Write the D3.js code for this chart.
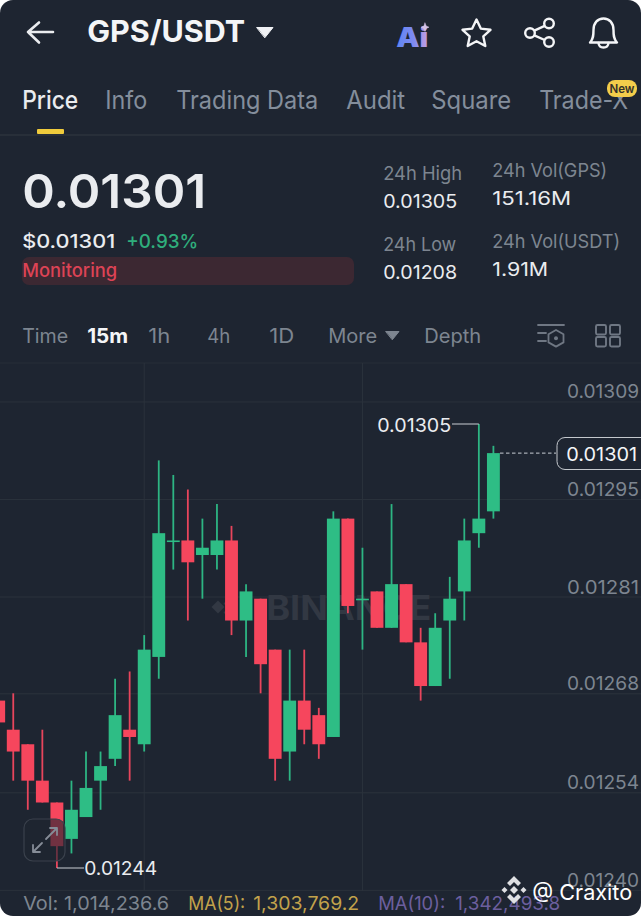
<!DOCTYPE html>
<html>
<head>
<meta charset="utf-8">
<script src="https://cdn.jsdelivr.net/npm/d3@7/dist/d3.min.js"></script>
<style>
html,body{margin:0;padding:0;background:#fff;overflow:hidden}
svg{display:block}
text{font-family:Inter,Lato,"Noto Sans",sans-serif}
</style>
</head>
<body>
<svg id="c" width="641" height="916"></svg>
<script>
// ---------- data ----------
const opens  = [0.01267,0.01263,0.01261,0.01256,0.01253,0.01248,0.01251,0.01256,0.01259,0.01263,0.01261,0.01273,0.01289,0.01289,0.01287,0.01287,0.01289,0.01278,0.01281,0.01274,0.01260,0.01267,0.01265,0.01262,0.01292,0.01281,0.01282,0.01277,0.01283,0.01275,0.01269,0.01278,0.01282,0.01290,0.01293];
const highs  = [0.01273,0.01268,0.01261,0.01263,0.01253,0.01256,0.01260,0.01260,0.01270,0.01271,0.01276,0.01300,0.01298,0.01296,0.01292,0.01294,0.01291,0.01283,0.01281,0.01274,0.01274,0.01274,0.01266,0.01293,0.01292,0.01288,0.01282,0.01294,0.01283,0.01277,0.01279,0.01284,0.01292,0.01305,0.01302];
const lows   = [0.01263,0.01256,0.01252,0.01253,0.01244,0.01246,0.01251,0.01252,0.01258,0.01256,0.01260,0.01270,0.01285,0.01278,0.01281,0.01285,0.01276,0.01273,0.01268,0.01256,0.01256,0.01261,0.01259,0.01262,0.01279,0.01274,0.01277,0.01277,0.01275,0.01267,0.01269,0.01270,0.01278,0.01288,0.01292];
const closes = [0.01264,0.01260,0.01256,0.01253,0.01247,0.01252,0.01255,0.01258,0.01265,0.01262,0.01274,0.01290,0.01289,0.01286,0.01288,0.01289,0.01278,0.01282,0.01272,0.01259,0.01267,0.01263,0.01261,0.01292,0.01280,0.01281,0.01277,0.01283,0.01275,0.01269,0.01277,0.01281,0.01289,0.01292,0.01301];
const upFlags = [0,0,0,0,0,1,1,1,1,0,1,1,1,0,1,1,0,1,0,0,1,0,0,1,0,1,0,1,0,0,1,1,1,1,1];
const priceTicks  = [0.013081,0.012947,0.012813,0.01268,0.012544,0.01241];
const priceLabels = ["0.01309","0.01295","0.01281","0.01268","0.01254","0.01240"];
const timeGridCandles = [10,25];
const lastPrice = 0.01301, dayHigh = 0.01305, dayLow = 0.01244;
const tabs = ["Price","Info","Trading Data","Audit","Square","Trade-X"];
const intervals = ["Time","15m","1h","4h","1D","More","Depth"];

// ---------- palette ----------
const BG="#1e2531", GRID="#2b323c", UP="#2ebd85", DOWN="#f6465d", GRAY="#848e9c", AXIS="#7d8590", WHITE="#eaecef";

const svg = d3.select("#c");
svg.append("rect").attr("width",641).attr("height",916).attr("rx",13).attr("fill",BG);

function T(s,x,base,size,fill,width,weight,anchor){
  const t = svg.append("text").attr("x",anchor?x:x-0.8).attr("y",base).attr("font-size",size)
    .attr("fill",fill).attr("font-weight",weight||400).text(s);
  if(anchor) t.attr("text-anchor",anchor);
  if(width) t.attr("textLength",width).attr("lengthAdjust","spacingAndGlyphs");
  return t;
}
const L=(x1,y1,x2,y2,c,w)=>svg.append("line").attr("x1",x1).attr("y1",y1).attr("x2",x2).attr("y2",y2).attr("stroke",c).attr("stroke-width",w||1);
const P=(d,c,w,f)=>svg.append("path").attr("d",d).attr("stroke",c||"none").attr("stroke-width",w||0).attr("fill",f||"none").attr("stroke-linecap","round").attr("stroke-linejoin","round");

// ---------- header ----------
P("M53 32H28M39 22.5L28 32L39 42.5","#eaecef",2.6);
T("GPS/USDT",88,42,30,"#f4f5f7",158,700);
P("M257 27.5H273L265 37.5Z","#f0f1f4",1,"#f0f1f4");

const defs = svg.append("defs");
const grad = defs.append("linearGradient").attr("id","ai").attr("x1","0").attr("x2","1");
grad.append("stop").attr("offset","0").attr("stop-color","#5f86f2");
grad.append("stop").attr("offset","0.55").attr("stop-color","#7f8af0");
grad.append("stop").attr("offset","1").attr("stop-color","#c59fe0");
T("Ai",397,47,27,"url(#ai)",32,900);
P("M425 23L426.2 26L429 27.2L426.2 28.4L425 31.5L423.8 28.4L421 27.2L423.8 26Z","#d5c3e6",0.5,"#d5c3e6");

P("M476.5 19.5L480.8 28.6L490.5 29.8L483.3 36.4L485.3 46L476.5 41.2L467.7 46L469.7 36.4L462.5 29.8L472.2 28.6Z","#f4f5f7",2.4);
svg.selectAll(null).data([[530,33],[549,23.5],[549,42]]).join("circle")
  .attr("cx",d=>d[0]).attr("cy",d=>d[1]).attr("r",4.8).attr("fill","none").attr("stroke","#f4f5f7").attr("stroke-width",2.4);
L(534.3,30.6,544.7,25.8,"#f4f5f7",2.4); L(534.3,35.4,544.7,40,"#f4f5f7",2.4);
P("M590 42.5C593.5 39 593.5 35 593.5 30C593.5 23 597.5 18.5 603.5 18.5C609.5 18.5 613.5 23 613.5 30C613.5 35 613.5 39 617 42.5Z","#f4f5f7",2.4);
P("M598.5 43C599 49 608 49 608.5 43","#f4f5f7",2.4);

// ---------- tabs ----------
const tabX = [[23,56],[106,42],[177,142],[347,59],[432,80],[540,89]];
tabs.forEach((s,i)=>T(s,tabX[i][0],109,25,i==0?WHITE:GRAY,tabX[i][1],i==0?500:400));
L(0,135,641,135,"#2c333d",1.5);
svg.append("rect").attr("x",37).attr("y",129).attr("width",27).attr("height",5).attr("rx",1).attr("fill","#f0cb3c");
svg.append("rect").attr("x",607).attr("y",80).attr("width",30).attr("height",17).attr("rx",8).attr("fill","#f3cd4b");
T("New",622,92.5,11.5,"#33302a",null,600,"middle");

// ---------- price block ----------
T("0.01301",23,208,47,WHITE,184,600);
T("$0.01301",23,248,19,WHITE,93,500);
T("+0.93%",127,248,19,"#2fae7c",72,500);
svg.append("rect").attr("x",22).attr("y",257).attr("width",332).attr("height",28).attr("rx",7).attr("fill","#3c2832");
T("Monitoring",23,277,18.5,"#dd4355",95,500);

T("24h High",384,180,19,AXIS,79);
T("0.01305",384,208,19,WHITE,74);
T("24h Low",384,251,19,AXIS,73);
T("0.01208",384,279,19,WHITE,74);
T("24h Vol(GPS)",493,177,19,AXIS,115);
T("151.16M",493,205,19,WHITE,79);
T("24h Vol(USDT)",493,248,19,AXIS,128);
T("1.91M",493,276,19,WHITE,56);

// ---------- interval row ----------
const intX = [[23,46],[88,41],[149,22],[208,23],[270,25],[329,49],[425,57]];
intervals.forEach((s,i)=>T(s,intX[i][0],343,20,i==1?"#f4f5f7":AXIS,intX[i][1],i==1?700:400));
P("M386 331.5H399L392.5 339.5Z",AXIS,1,AXIS);
// indicator icon
const ICON="#6f7783";
P("M538 325H564M538 333H546M538 341H546",ICON,1.8);
P("M556 330L563.5 334.2V342.4L556 346.6L548.5 342.4V334.2Z",ICON,1.8);
svg.append("circle").attr("cx",556).attr("cy",338.3).attr("r",2).attr("fill",ICON);
// grid icon
[[596,325],[610,325],[596,337],[610,337]].forEach(p=>
  svg.append("rect").attr("x",p[0]).attr("y",p[1]).attr("width",10).attr("height",9.5).attr("rx",1.5)
     .attr("fill","none").attr("stroke",ICON).attr("stroke-width",1.9));

// ---------- chart ----------
L(0,363,641,363,"#272e38",1.2);
const x = d3.scaleLinear().domain([0,34]).range([-1.3,493.4]);
const y = d3.scaleLinear().domain([dayHigh,dayLow]).range([424,868]);

timeGridCandles.forEach(i=>L(x(i),363,x(i),891,GRID,1));

const axis = d3.axisLeft(y).tickValues(priceTicks).tickSize(641)
  .tickFormat((d,i)=>priceLabels[i]);
const ag = svg.append("g").attr("transform","translate(641,0)").call(axis);
ag.select(".domain").remove();
ag.selectAll(".tick line").attr("stroke",GRID).attr("stroke-width",1);
ag.selectAll(".tick text").attr("x",-2).attr("dy",-3.5).attr("text-anchor","end")
  .attr("font-size",19).attr("fill",AXIS).attr("textLength",72).attr("lengthAdjust","spacingAndGlyphs")
  .attr("font-family","Inter,Lato,sans-serif");

// watermark
T("BINANCE",267,620,34,"#323843",165,700);
P("M218 600.5L224.5 607L218 613.5L211.5 607Z","none",0,"#323843");
P("M230 597L236.5 603.5L230 610L223.5 603.5Z","none",0,"#323843");
P("M230 606L236.5 612.5L230 619L223.5 612.5Z","none",0,"#323843");

// candles
const candles = opens.map((o,i)=>({i,o,h:highs[i],l:lows[i],c:closes[i],up:upFlags[i]}));
const bw = (x(1)-x(0))*0.885;
svg.append("g").selectAll("line").data(candles).join("line")
  .attr("x1",d=>x(d.i)).attr("x2",d=>x(d.i)).attr("y1",d=>y(d.h)).attr("y2",d=>y(d.l))
  .attr("stroke",d=>d.up?"#2db583":"#e8455c").attr("stroke-width",1.8);
svg.append("g").selectAll("rect").data(candles).join("rect")
  .attr("x",d=>x(d.i)-bw/2).attr("width",bw)
  .attr("y",d=>Math.min(y(d.o),y(d.c)))
  .attr("height",d=>Math.max(1.6,Math.abs(y(d.o)-y(d.c))))
  .attr("fill",d=>d.up?UP:DOWN);

// high / low callouts
const iH = highs.indexOf(dayHigh), iL = lows.indexOf(dayLow);
L(x(iH),y(dayHigh),452,y(dayHigh),"#c9ced4",1);
T("0.01305",378,y(dayHigh)+7.5,19,WHITE,74);
L(x(iL),y(dayLow),84,y(dayLow),"#c9ced4",1);
T("0.01244",85,y(dayLow)+7,19,WHITE,73);

// last price tag
svg.append("line").attr("x1",500).attr("x2",556).attr("y1",y(lastPrice)).attr("y2",y(lastPrice))
  .attr("stroke","#c9ced4").attr("stroke-width",1).attr("stroke-dasharray","3.5 2.5");
svg.append("rect").attr("x",557).attr("y",437.5).attr("width",100).attr("height",32).attr("rx",8)
  .attr("fill",BG).attr("stroke","#c4c8cd").attr("stroke-width",1);
T("0.01301",567,461,19,"#f4f5f7",71);

// expand button
svg.append("rect").attr("x",24).attr("y",819).attr("width",41).attr("height",42).attr("rx",9)
  .attr("fill",BG).attr("fill-opacity",0.62).attr("stroke","#3a414c").attr("stroke-width",1.2);
P("M33 852L42 843M33 845V852H40M46 839L57 828M50 828H57V835","#858c97",1.8);

// footer
T("Vol: 1,014,236.6",24,910,19,AXIS,146);
T("MA(5):",189,910,19,"#c2a24b",57);
T("1,303,769.2",254,910,19,"#c2a24b",106);
T("MA(10):",379,910,19,"#6c5f9e",67);
T("1,342,493.8",456,910,19,"#6c5f9e",105);

// credit mark
const MARK="#dfe0e3";
P("M514 876L521 883L518 886L514 882L510 886L507 883Z","none",0,MARK);
P("M514 904L521 897L518 894L514 898L510 894L507 897Z","none",0,MARK);
P("M514 886L518 890L514 894L510 890Z","none",0,MARK);
P("M504.5 887L507.5 890L504.5 893L501.5 890Z","none",0,MARK);
P("M523.5 887L526.5 890L523.5 893L520.5 890Z","none",0,MARK);
T("@ Craxito",533,900,22,"#ffffff",100);
</script>
</body>
</html>
